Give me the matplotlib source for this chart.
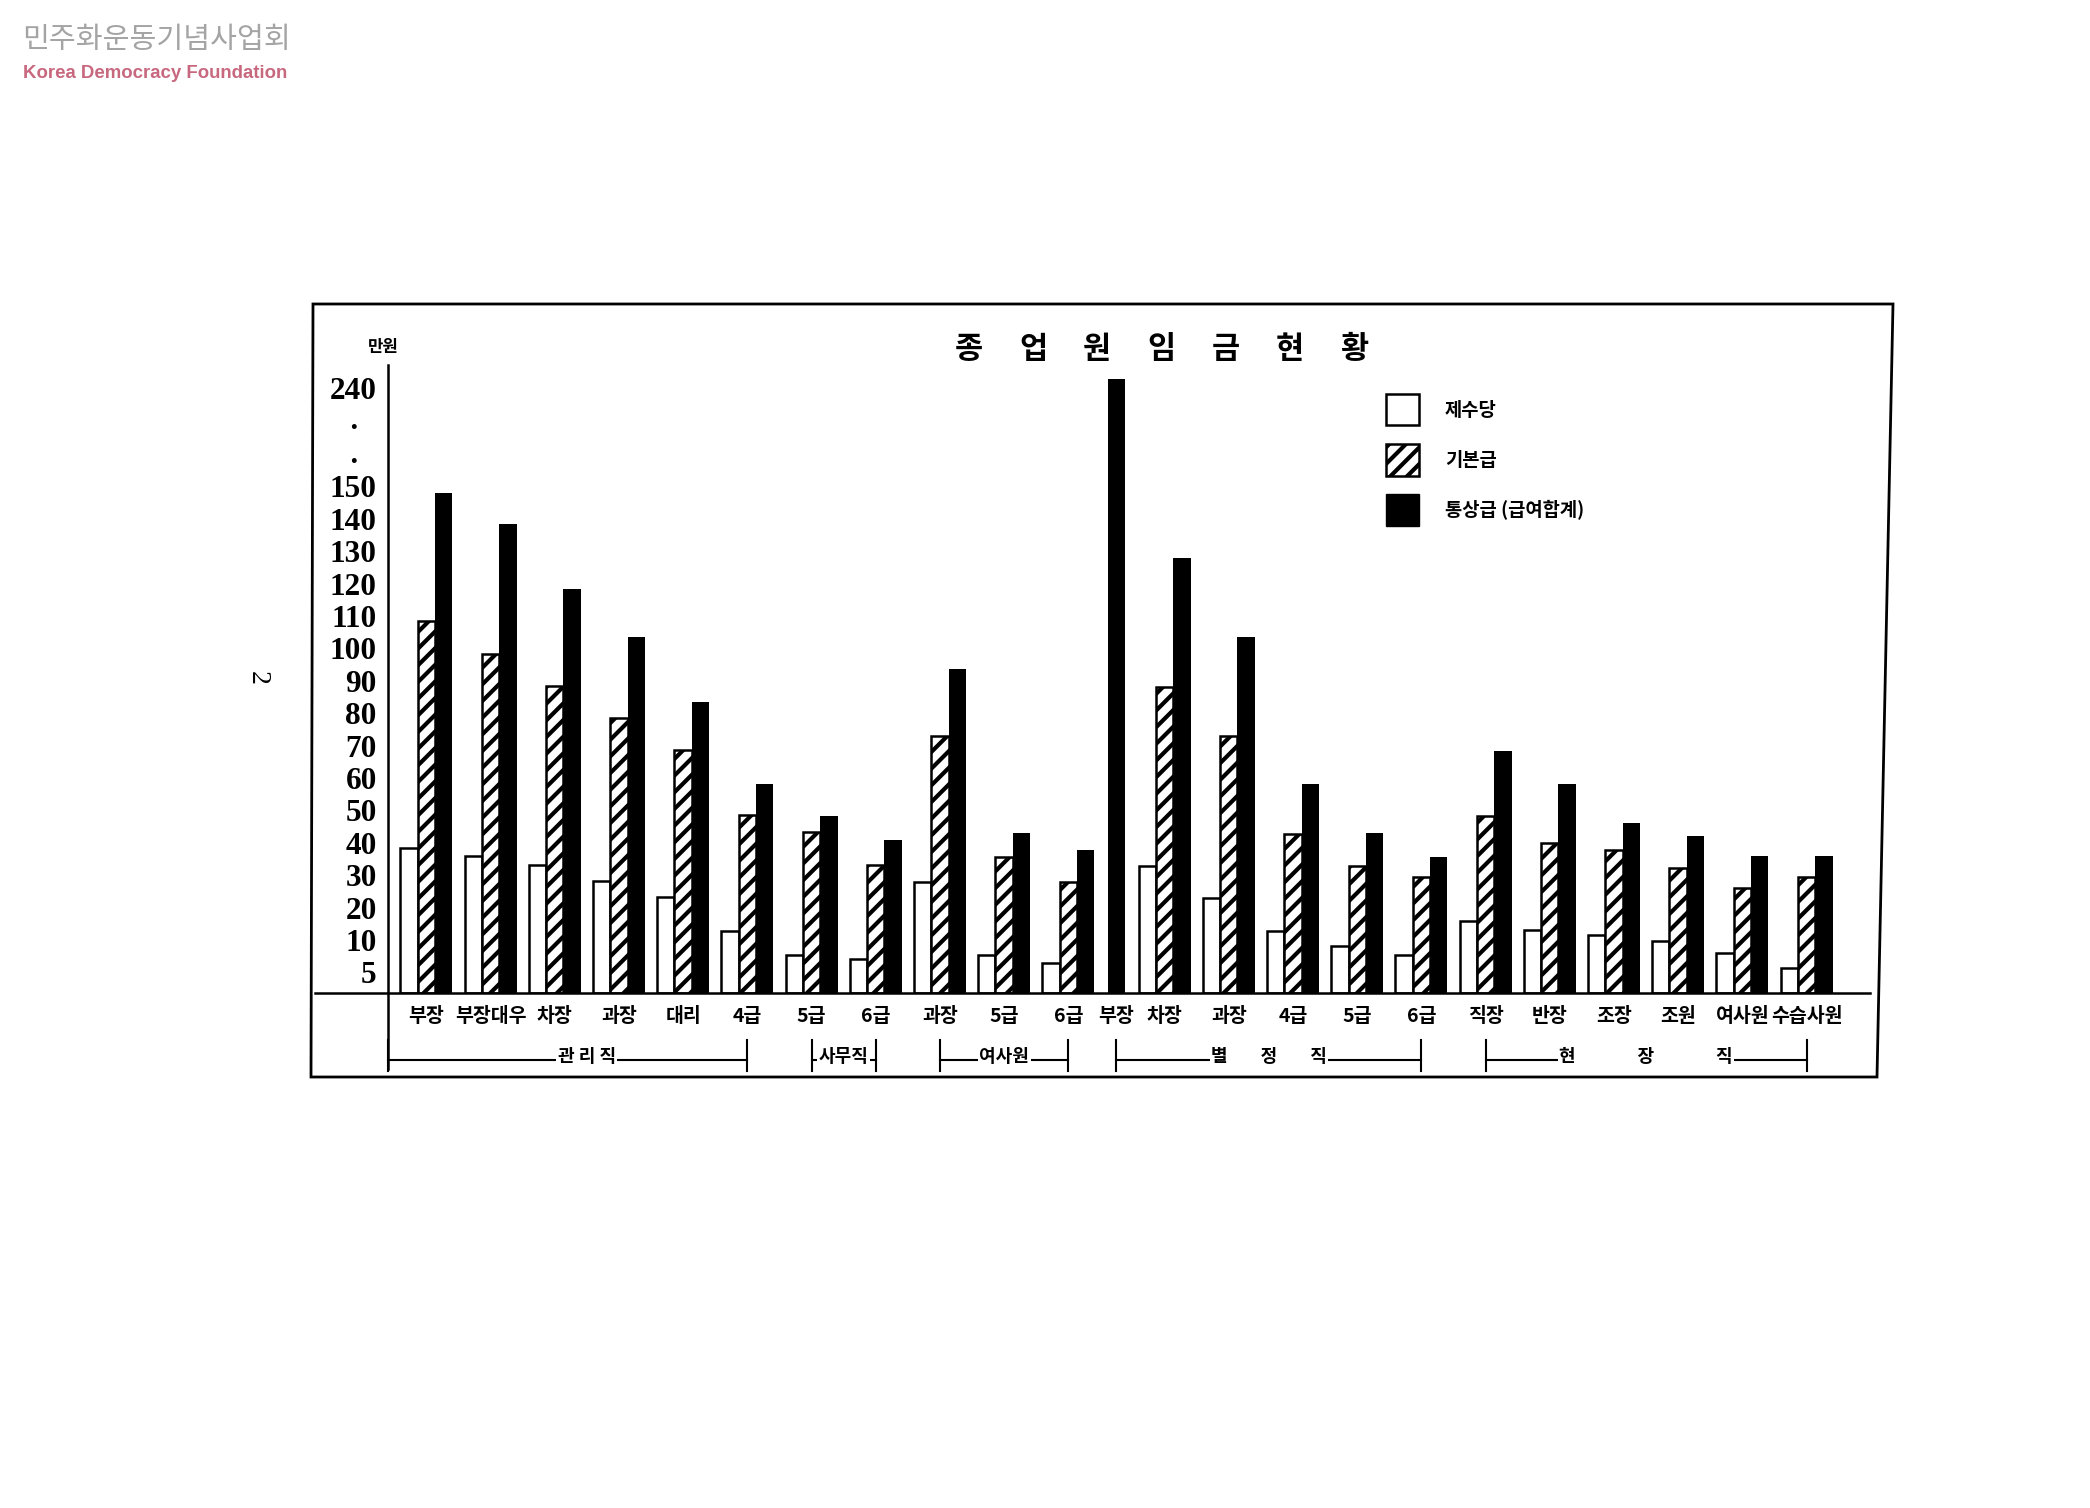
import numpy as np
import matplotlib
matplotlib.use('Agg')
import matplotlib.pyplot as plt
import matplotlib.transforms as mtransforms
from matplotlib.patches import Patch, Polygon
from matplotlib.ticker import NullLocator

plt.rcParams['font.family'] = ['Noto Sans CJK KR', 'DejaVu Sans']
plt.rcParams['hatch.linewidth'] = 3.0

# 직급별 (만원)
categories = ['부장', '부장대우', '차장', '과장', '대리', '4급',
              '5급', '6급',
              '과장', '5급', '6급',
              '부장', '차장', '과장', '4급', '5급', '6급',
              '직장', '반장', '조장', '조원', '여사원', '수습사원']
group_names = ['관 리 직', '사무직', '여사원',
               '별' + ' ' * 8 + '정' + ' ' * 8 + '직',
               '현' + ' ' * 15 + '장' + ' ' * 15 + '직']
group_sizes = [6, 2, 3, 6, 6]

# 제수당 / 기본급 / 통상급(급여합계), 별정직 부장은 통상급만 표시
allowance = [38.3, 35.8, 33.1, 28.2, 23.2, 12.8, 7.6, 7.0, 27.8, 7.6, 6.5,
             np.nan, 32.7, 22.8, 12.8, 9.0, 7.7, 15.7, 13.1, 11.6, 9.9, 7.9, 5.6]
base_pay = [108.6, 98.4, 88.4, 78.5, 68.6, 48.5, 43.4, 33.1, 73.1, 35.7, 28.0,
            np.nan, 88.0, 73.1, 42.7, 32.9, 29.3, 48.2, 40.0, 37.9, 32.2, 26.1, 29.5]
total_pay = [148.1, 138.4, 118.4, 103.4, 83.5, 58.1, 48.4, 40.8, 93.6, 43.0, 37.8,
             248.0, 128.0, 103.4, 58.1, 43.0, 35.5, 68.2, 58.0, 46.2, 42.1, 35.8, 35.8]

series_labels = ['제수당', '기본급', '통상급 (급여합계)']
y_ticks = [5, 10, 20, 30, 40, 50, 60, 70, 80, 90, 100, 110, 120, 130, 140, 150, 240]
title = '종업원임금현황'

# 눈금 간격이 일정하지 않은 원본 축 (150 위는 생략 구간)
Y_KNOTS = [-10, 0, 5, 10, 150, 240, 300]
S_KNOTS = [-1.95, -0.65, 0, 1, 15, 18.05, 20.08]


def fwd(v):
    return np.interp(v, Y_KNOTS, S_KNOTS)


def inv(s):
    return np.interp(s, S_KNOTS, Y_KNOTS)


W, H = 2090, 1508
fig = plt.figure(figsize=(W / 100, H / 100), dpi=100)
fig.patch.set_facecolor('white')

ax = fig.add_axes([291 / 1568, 1 - 745 / 1131, (1403 - 291) / 1568, (745 - 274) / 1131])
ax.set_yscale('function', functions=(fwd, inv))

allow = np.array(allowance, float)
base = np.array(base_pay, float)
total = np.array(total_pay, float)
single = np.isnan(allow)
slot_w = np.where(single, 0.5, 1.0)
centers = np.cumsum(slot_w) - slot_w / 2 - 0.5

bw = 0.27
m = ~single
ax.bar(centers[m] - bw, allow[m], bw, facecolor='white', edgecolor='black', lw=1.8)
ax.bar(centers[m], base[m], bw, facecolor='white', edgecolor='black', hatch='//', lw=1.8)
ax.bar(np.where(single, centers, centers + bw), total, bw, color='black')

ax.set_xlim(-0.6, 22.49)
ax.set_ylim(0, 260.4)
for s in ax.spines.values():
    s.set_visible(False)

ax.set_yticks(y_ticks, labels=[str(t) for t in y_ticks],
              family=['Liberation Serif', 'DejaVu Serif'], fontweight='bold', fontsize=22.5)
ax.yaxis.set_minor_locator(NullLocator())
ax.tick_params(axis='y', length=0, pad=8)
ax.set_xticks(centers, labels=categories, fontsize=14, fontweight='bold')
ax.tick_params(axis='x', length=0, pad=10)

# 생략 표시 점
ytr = ax.get_yaxis_transform()
for v in (174, 205):
    ax.text(-0.0234, v, '•', transform=ytr, ha='center', va='center', fontsize=14, clip_on=False)

# 축선
ax.plot([0, 0], [-0.12, 1], transform=ax.transAxes, color='black', lw=1.8, clip_on=False)
ax.plot([-0.0495, 1], [0, 0], transform=ax.transAxes, color='black', lw=1.8, clip_on=False)

# 직군 구분
trans = mtransforms.blended_transform_factory(ax.transData, ax.transAxes)
start = 0
for name, n in zip(group_names, group_sizes):
    x0 = centers[start] if start > 0 else ax.get_xlim()[0]
    x1 = centers[start + n - 1]
    ax.plot([x0, x1], [-0.106, -0.106], transform=trans, color='black', lw=1.5, clip_on=False)
    for xx in (x0, x1):
        ax.plot([xx, xx], [-0.074, -0.123], transform=trans, color='black', lw=1.5, clip_on=False)
    mid = (centers[start] + x1) / 2
    ax.text(mid, -0.1, name, transform=trans, ha='center', va='center', fontsize=13,
            fontweight='bold', zorder=5,
            bbox=dict(facecolor='white', edgecolor='none', pad=1))
    start += n

# 제목
for i, ch in enumerate(title):
    fig.text((969 + i * 64.2) / W, 1 - 349 / H, ch, ha='center', va='center',
             fontsize=22, fontweight='bold')
fig.text(383 / W, 1 - 347 / H, '만원', ha='center', va='center', fontsize=12, fontweight='bold')

handles = [Patch(facecolor='white', edgecolor='black', lw=1.8),
           Patch(facecolor='white', edgecolor='black', hatch='//', lw=1.8),
           Patch(facecolor='black', edgecolor='black')]
fig.legend(handles, series_labels, loc='upper left', bbox_to_anchor=(1386 / W, 1 - 394 / H),
           bbox_transform=fig.transFigure, frameon=False, borderpad=0, borderaxespad=0,
           handlelength=1.75, handleheight=2.2, handletextpad=1.4, labelspacing=1.0,
           prop=dict(family=['Noto Sans CJK KR', 'DejaVu Sans'], weight='bold', size=13.5))

# 테두리
frame = [(313, 304), (1893, 304), (1877, 1077), (311, 1077)]
fig.add_artist(Polygon([(x / W, 1 - y / H) for x, y in frame], closed=True, fill=False,
                       edgecolor='black', lw=2, transform=fig.transFigure))

# 로고, 쪽번호
fig.text(22 / W, 1 - 40 / H, '민주화운동기념사업회', ha='left', va='center', fontsize=21,
         color='#a4a4a4')
fig.text(23 / W, 1 - 74 / H, 'Korea Democracy Foundation', ha='left', va='center',
         fontsize=13.4, fontweight='bold', color='#c8687f', family=['Liberation Sans', 'DejaVu Sans'])
fig.text(257 / W, 1 - 678 / H, '2', ha='center', va='center', fontsize=20, rotation=-90,
         family=['Liberation Serif', 'DejaVu Serif'])

fig.savefig('out.png', dpi=100)
